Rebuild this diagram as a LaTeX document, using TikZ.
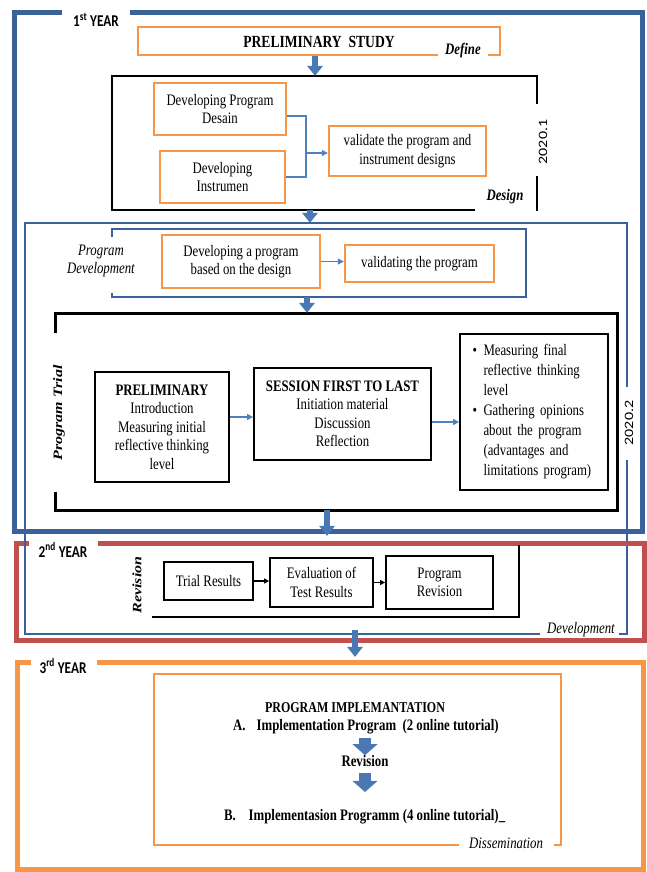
\documentclass[tikz,border=0pt]{standalone}
\usepackage{fontspec}
\setmainfont{Liberation Serif}[FakeStretch=0.8]
\newfontfamily\serifrot{Liberation Serif}
\newfontfamily\calfont{Carlito}[FakeStretch=0.8]
\newfontfamily\calrot{Carlito}
\usetikzlibrary{arrows.meta}
\definecolor{frameblue}{HTML}{3A619A}
\definecolor{linkblue}{HTML}{4F81BD}
\definecolor{blockblue}{HTML}{4A78B4}
\definecolor{accorange}{HTML}{F79646}
\definecolor{accred}{HTML}{C0504D}
\newcommand\bodysize{\fontsize{16}{18.5}\selectfont}
\newcommand\jl[1]{\makebox[112pt][s]{#1}}
\newcommand\bl{\makebox[11pt][l]{\textbullet}}
\newcommand\ind{\hspace*{11pt}}
\tikzset{
  lbl/.style={inner sep=0pt, align=center},
  framenode/.style={draw=none, inner sep=0pt},
  obox/.style={draw=accorange, line width=2.4pt, inner sep=0pt, align=center},
  kbox/.style={draw=black, line width=1.8pt, inner sep=0pt, align=center},
  yearline/.style={line width=5pt},
  obline/.style={draw=accorange, line width=2.4pt},
  kline/.style={draw=black, line width=2.5pt},
  bline/.style={draw=frameblue, line width=2.5pt},
  yearlbl/.style={inner sep=0pt, font=\calfont\bfseries\fontsize{16.5}{18}\selectfont},
  rotlbl/.style={rotate=90, yscale=0.8, inner sep=0pt, font=\calrot\fontsize{16}{18}\selectfont},
  rotital/.style={rotate=90, yscale=0.8, inner sep=0pt, font=\serifrot\bfseries\itshape\fontsize{16}{18}\selectfont},
  thinline/.style={draw=linkblue, line width=1.1pt},
  thinarrow/.style={draw=linkblue, line width=1.1pt, -{Triangle[length=6pt,width=6pt]}},
  karrow/.style={draw=black, line width=1.4pt, -{Triangle[length=5pt,width=5pt]}},
  bigarrow/.style={draw=blockblue, line width=6pt, -{Triangle[width=16pt,length=10pt,line width=0pt]}},
  fatarrow/.style={draw=blockblue, line width=12pt, -{Triangle[width=25pt,length=11pt,line width=0pt]}},
}
\begin{document}
\begin{tikzpicture}[x=1pt, y=-1pt, font=\bodysize]
\fill[white] (0,0) rectangle (647,872);
\useasboundingbox (0,0) rectangle (647,872);

% ---------- first year ----------
\draw[yearline, draw=frameblue] (62,13) -- (14,13) -- (14,531) -- (642,531) -- (642,13) -- (130,13);
\node[framenode, minimum width=628, minimum height=518] (year1) at (328,272) {};
\node[yearlbl] (y1lbl) at (96,20) {1\textsuperscript{st} YEAR};

% define stage
\draw[obline] (438,55) -- (138,55) -- (138,27) -- (500,27) -- (500,55) -- (488,55);
\node[framenode, minimum width=362, minimum height=28, font=\fontsize{17}{20}\selectfont\bfseries] (prelim) at (319,42) {PRELIMINARY\ \ STUDY};
\node[lbl, font=\bodysize\bfseries\itshape] (definelbl) at (463,51) {Define};

% design stage
\draw[kline] (537,104) -- (537,76) -- (112,76) -- (112,210) -- (475,210);
\draw[kline] (537,176) -- (537,211.25);
\node[framenode, minimum width=425, minimum height=134] (design) at (324.5,143) {};
\node[rotlbl] (y20201) at (543,142) {2020.1};
\node[lbl, font=\bodysize\bfseries\itshape] (designlbl) at (505,197) {Design};
\node[obox, minimum width=132, minimum height=52] (dpd) at (220,109) {Developing Program\\Desain};
\node[obox, minimum width=125, minimum height=52] (dins) at (222.5,177) {Developing\\Instrumen};
\node[obox, minimum width=157, minimum height=50] (valid) at (407.5,151) {validate the program and\\instrument designs};
\coordinate (junc) at (306,153);
\draw[thinline] ([yshift=-7pt]dpd.east) -| (junc);
\draw[thinline] (dins.east) -| (junc);
\draw[thinarrow] (junc) -- (junc -| valid.west);

% development frame
\draw[bline] (540,634) -- (25,634) -- (25,223) -- (627,223) -- (627,387);
\draw[bline] (627,460) -- (627,634) -- (619,634);
\node[framenode, minimum width=602, minimum height=411] (devframe) at (326,428.5) {};
\node[rotlbl] (y20202) at (629,423) {2020.2};
\node[lbl, font=\bodysize\itshape] (devlbl) at (581,630) {Development};

% program development
\draw[bline] (112,237) -- (112,229) -- (526,229) -- (526,297) -- (112,297) -- (112,293);
\node[framenode, minimum width=414, minimum height=68] (pdbox) at (319,263) {};
\node[lbl, font=\bodysize\itshape] (pdlbl) at (101,261) {Program\\Development};
\node[obox, minimum width=158, minimum height=53] (devprog) at (241,261.5) {Developing a program\\based on the design};
\node[obox, minimum width=149, minimum height=37] (validprog) at (419.5,263.5) {validating the program};
\draw[thinarrow] (devprog.east) -- (devprog.east -| validprog.west);

% program trial
\draw[kline, line width=3pt] (55,333) -- (55,313) -- (617,313) -- (617,510) -- (55,510) -- (55,492);
\node[framenode, minimum width=562, minimum height=197] (trial) at (336,411.5) {};
\node[rotital] (triallbl) at (59,413) {Program Trial};
\node[kbox, minimum width=134, minimum height=110] (pre) at (162,427)
  {\textbf{PRELIMINARY}\\Introduction\\Measuring initial\\reflective thinking\\level};
\node[kbox, minimum width=177, minimum height=92] (sess) at (342.5,414)
  {\textbf{SESSION FIRST TO LAST}\\Initiation material\\Discussion\\Reflection};
\node[kbox, minimum width=148, minimum height=156, text width=123pt, align=left,
      font=\fontsize{16}{20}\selectfont] (final) at (534,412)
  {\bl\jl{Measuring final}\\
   \ind\jl{reflective thinking}\\
   \ind level\\
   \bl\jl{Gathering opinions}\\
   \ind\jl{about the program}\\
   \ind\jl{(advantages and}\\
   \ind\jl{limitations program)}};
\draw[thinarrow] ([yshift=10pt]pre.east) -- ([yshift=10pt]pre.east -| sess.west);
\draw[thinarrow] ([yshift=-8pt]sess.east) -- ([yshift=-8pt]sess.east -| final.west);

% ---------- second year ----------
\draw[yearline, draw=accred] (29,543) -- (16,543) -- (16,640) -- (644,640) -- (644,543) -- (98,543);
\node[framenode, minimum width=628, minimum height=97] (year2) at (330,591.5) {};
\node[yearlbl] (y2lbl) at (63,550) {2\textsuperscript{nd} YEAR};
\draw[bline] (25,531) -- (25,634);

% revision
\draw[kline, line width=2.2pt] (519,545) -- (519,617) -- (152,617);
\node[framenode, minimum width=367, minimum height=69] (revbox) at (335.5,582.5) {};
\node[rotital] (revlbl) at (137,585) {Revision};
\node[kbox, minimum width=89, minimum height=38] (trialres) at (208.5,581) {Trial Results};
\node[kbox, minimum width=103, minimum height=49] (evalres) at (321.5,582.5) {Evaluation of\\Test Results};
\node[kbox, minimum width=107, minimum height=53] (progrev) at (439.5,582.5) {Program\\Revision};
\draw[karrow] (trialres.east) -- (trialres.east -| evalres.west);
\draw[karrow] (evalres.east) -- (evalres.east -| progrev.west);

% ---------- third year ----------
\draw[yearline, draw=accorange] (31,662) -- (17,662) -- (17,869) -- (643,869) -- (643,662) -- (97,662);
\node[framenode, minimum width=626, minimum height=207] (year3) at (330,765.5) {};
\node[yearlbl] (y3lbl) at (63,666) {3\textsuperscript{rd} YEAR};

% dissemination
\draw[obline] (459,845) -- (154,845) -- (154,674) -- (561,674) -- (561,845) -- (554,845);
\node[framenode, minimum width=407, minimum height=171] (dissem) at (357.5,759.5) {};
\node[lbl, font=\bodysize\itshape] (disslbl) at (506,843) {Dissemination};
\node[lbl, font=\fontsize{15}{18}\selectfont\bfseries] (impltitle) at (355,708) {PROGRAM IMPLEMANTATION};
\node[lbl, anchor=west, font=\bodysize\bfseries] (implA) at (233,727)
  {\makebox[23.5pt][l]{A.}Implementation Program\ \ (2 online tutorial)};
\node[lbl, font=\bodysize\bfseries] (revnode) at (365,761) {Revision};
\node[lbl, anchor=west, font=\bodysize\bfseries] (implB) at (224,817)
  {\makebox[24.5pt][l]{B.}Implementasion Programm (4 online tutorial)\_};
\draw[fatarrow, shorten <=3pt] (revnode.north |- implA.south) -- (revnode.north);
\draw[fatarrow, shorten <=6pt, shorten >=17.5pt] (revnode.south) -- (revnode.south |- implB.north);

% ---------- stage to stage arrows ----------
\draw[bigarrow] ([xshift=-4pt]prelim.south) -- ([xshift=-4pt]prelim.south |- design.north);
\draw[bigarrow] ([xshift=-14.5pt]design.south) -- ([xshift=-14.5pt]design.south |- devframe.north);
\draw[bigarrow] ([xshift=-12pt]pdbox.south) -- ([xshift=-12pt]pdbox.south |- trial.north);
\draw[bigarrow, shorten >=7pt] ([xshift=-9pt]trial.south) -- ([xshift=-9pt]trial.south |- year2.north);
\draw[bigarrow, shorten <=-4pt, shorten >=5pt] ([xshift=29pt]devframe.south) -- ([xshift=29pt]devframe.south |- year3.north);
\end{tikzpicture}
\end{document}
